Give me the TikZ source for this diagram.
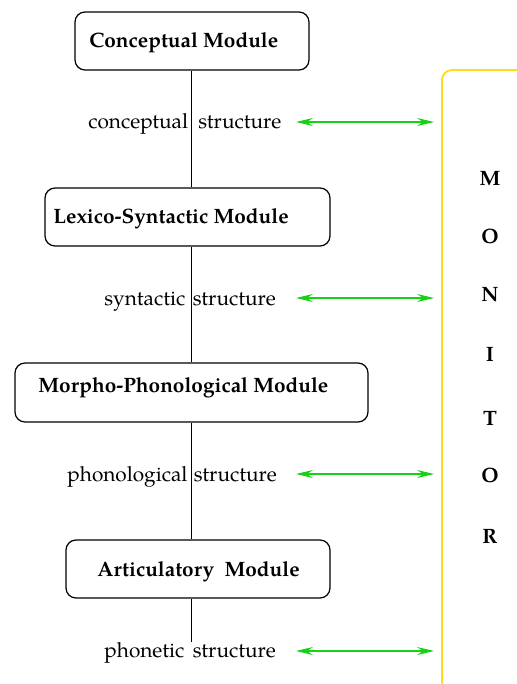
\documentclass[tikz,border=0pt]{standalone}
\usepackage{fontspec}
\setmainfont{texgyrepagella}[Extension=.otf, UprightFont=*-regular, BoldFont=*-bold, ItalicFont=*-italic, BoldItalicFont=*-bolditalic]
\usetikzlibrary{arrows.meta}
\definecolor{arrgreen}{RGB}{20,210,20}
\definecolor{monyellow}{RGB}{255,218,30}
\newcommand{\basefont}{\fontsize{10.4pt}{12.5pt}\selectfont}
\tikzset{
  modbox/.style={draw, line width=0.6pt, rounded corners=5pt, inner sep=0pt},
  modtext/.style={font=\basefont\bfseries, inner sep=0pt, anchor=base west},
  lefttext/.style={font=\basefont, inner sep=0pt, anchor=base west},
  righttext/.style={font=\basefont, inner sep=0pt, anchor=base west},
  spineline/.style={line width=0.5pt},
  linkarrow/.style={arrgreen, line width=0.6pt, {Stealth[length=8.5pt,width=4pt,inset=3pt]}-{Stealth[length=8.5pt,width=4pt,inset=3pt]}},
  monletter/.style={font=\basefont\bfseries, inner sep=0pt},
}
\begin{document}
\begin{tikzpicture}[x=0.5pt, y=-0.5pt]
\useasboundingbox (0,0) rectangle (517,684);
\clip (0,0) rectangle (517,684);
% module boxes
\node[modbox, minimum width=117pt, minimum height=29pt] (cm) at (192,41) {};
\node[modbox, minimum width=142.5pt, minimum height=29pt] (ls) at (187.5,217) {};
\node[modbox, minimum width=176.5pt, minimum height=29.5pt] (mp) at (191.5,392.5) {};
\node[modbox, minimum width=132pt, minimum height=29pt] (ar) at (198,569) {};
% module texts
\node[modtext] (cmt) at (89,48) {Conceptual Module};
\node[modtext] (lst) at (53,223) {Lexico-Syntactic Module};
\node[modtext] (mpt) at (38,392) {Morpho-Phonological Module};
\node[modtext] (art) at (97,576) {Articulatory\ \ Module};
% spine
\coordinate (spine) at (191,0);
\coordinate (bottom) at (191,642);
\draw[spineline] (cm.south -| spine) -- (ls.north -| spine);
\draw[spineline] (ls.south -| spine) -- (mp.north -| spine);
\draw[spineline] (mp.south -| spine) -- (ar.north -| spine);
\draw[spineline] (ar.south -| spine) -- (bottom);
% structure labels
\node[lefttext] (l1) at (88,129) {conceptual};
\node[righttext] (r1) at (198,129) {structure};
\node[lefttext] (l2) at (104,305) {syntactic};
\node[righttext] (r2) at (192.5,305) {structure};
\node[lefttext] (l3) at (67,481) {phonological};
\node[righttext] (r3) at (193.5,481) {structure};
\node[lefttext] (l4) at (104,657) {phonetic};
\node[righttext] (r4) at (192.5,657) {structure};
% arrows
\coordinate (a1s) at (296,122); \coordinate (a1e) at (434,122);
\coordinate (a2s) at (296,298); \coordinate (a2e) at (434,298);
\coordinate (a3s) at (296,474); \coordinate (a3e) at (434,474);
\coordinate (a4s) at (296,651); \coordinate (a4e) at (434,651);
\draw[linkarrow] (a1s) -- (a1e);
\draw[linkarrow] (a2s) -- (a2e);
\draw[linkarrow] (a3s) -- (a3e);
\draw[linkarrow] (a4s) -- (a4e);
% monitor bracket
\draw[monyellow, line width=0.9pt, rounded corners=5pt] (540,70) -- (442,70) -- (442,692) -- (540,692);
\node[monletter] (m1) at (490,179) {M};
\node[monletter] (m2) at (490,236) {O};
\node[monletter] (m3) at (490,295) {N};
\node[monletter] (m4) at (490,354) {I};
\node[monletter] (m5) at (490,418) {T};
\node[monletter] (m6) at (490,475) {O};
\node[monletter] (m7) at (490,536) {R};
\end{tikzpicture}
\end{document}
